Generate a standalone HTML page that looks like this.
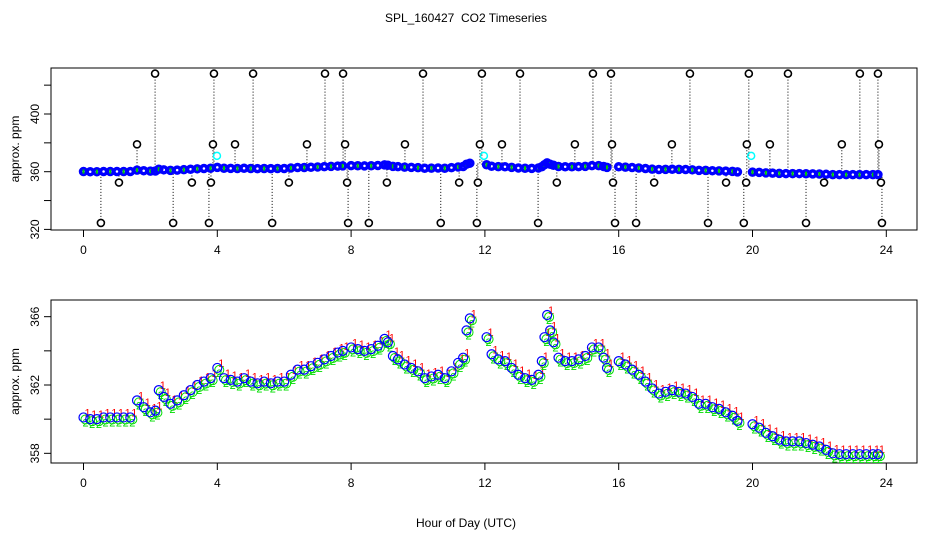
<!DOCTYPE html>
<html><head><meta charset="utf-8"><style>
html,body{margin:0;padding:0;background:#fff;}
svg{display:block;font-family:"Liberation Sans",sans-serif;}
</style></head><body>
<svg id="chart" width="936" height="540" viewBox="0 0 936 540" xmlns="http://www.w3.org/2000/svg">
<rect width="936" height="540" fill="#fff"/>
<text x="466" y="22" font-size="12" text-anchor="middle" style="white-space:pre">SPL_160427  CO2 Timeseries</text>
<text x="466" y="527" font-size="12" text-anchor="middle">Hour of Day (UTC)</text>
<g id="top"></g>
<g id="bot"></g>
</svg>
<script>
const hours=[0.0,0.2,0.4,0.6,0.8,1.0,1.2,1.4,1.6,1.8,2.0,2.15,2.25,2.4,2.6,2.8,3.0,3.2,3.4,3.6,3.8,4.0,4.2,4.4,4.6,4.8,5.0,5.2,5.4,5.6,5.8,6.0,6.2,6.4,6.6,6.8,7.0,7.2,7.4,7.6,7.75,8.0,8.2,8.4,8.6,8.8,9.0,9.1,9.25,9.4,9.6,9.8,10.0,10.2,10.4,10.6,10.8,11.0,11.2,11.35,11.45,11.55,12.05,12.2,12.4,12.6,12.8,13.0,13.2,13.4,13.6,13.7,13.78,13.86,13.95,14.05,14.2,14.4,14.6,14.8,15.0,15.2,15.4,15.55,15.65,16.0,16.2,16.4,16.6,16.8,17.0,17.2,17.4,17.6,17.8,18.0,18.2,18.4,18.6,18.8,19.0,19.2,19.4,19.55,20.0,20.2,20.4,20.6,20.8,21.0,21.2,21.4,21.6,21.8,22.0,22.2,22.4,22.6,22.8,23.0,23.2,23.4,23.6,23.75];
const co2=[360.1,360.0,360.0,360.1,360.1,360.1,360.1,360.1,361.1,360.7,360.4,360.5,361.7,361.3,360.9,361.1,361.4,361.7,362.0,362.2,362.4,363.0,362.4,362.3,362.2,362.4,362.2,362.1,362.2,362.1,362.2,362.2,362.6,362.9,362.9,363.1,363.3,363.5,363.7,363.9,364.0,364.2,364.1,364.0,364.1,364.3,364.7,364.5,363.7,363.5,363.2,363.0,362.8,362.4,362.5,362.6,362.4,362.8,363.3,363.6,365.2,365.9,364.8,363.8,363.5,363.4,363.0,362.6,362.4,362.3,362.6,363.4,364.8,366.1,365.2,364.5,363.6,363.4,363.4,363.5,363.7,364.2,364.2,363.6,363.0,363.4,363.2,362.9,362.6,362.2,361.8,361.5,361.6,361.7,361.6,361.5,361.3,360.9,360.9,360.7,360.6,360.4,360.2,359.9,359.7,359.5,359.2,359.0,358.8,358.7,358.7,358.7,358.6,358.5,358.4,358.2,358.0,357.95,357.95,357.95,357.95,357.95,357.95,357.95];
const outHours=[2.14,3.90,5.07,7.22,7.76,10.15,11.91,13.05,15.23,15.77,18.13,19.89,21.06,23.21,23.75,
1.60,3.87,4.53,6.68,7.82,9.61,11.85,12.51,14.69,15.80,17.59,19.83,20.52,22.67,23.78,
1.06,3.24,3.81,6.14,7.88,9.07,11.23,11.79,14.15,15.83,17.06,19.21,19.81,22.14,23.84,
0.52,2.68,3.75,5.64,7.91,8.53,10.68,11.76,13.59,15.89,16.52,18.67,19.74,21.60,23.87];
const outVals=[428,428,428,428,428,428,428,428,428,428,428,428,428,428,428,
379,379,379,379,379,379,379,379,379,379,379,379,379,379,379,
352.5,352.5,352.5,352.5,352.5,352.5,352.5,352.5,352.5,352.5,352.5,352.5,352.5,352.5,352.5,
324.5,324.5,324.5,324.5,324.5,324.5,324.5,324.5,324.5,324.5,324.5,324.5,324.5,324.5,324.5];
const cyanHours=[3.99,11.97,19.96];
const cyanVals=[371,371,371];
const xTicks=[0,4,8,12,16,20,24];
const topYTicks=[320,340,360,380,400,420];
const topYLabels=[320,360,400];
const botYTicks=[358,360,362,364,366];
const botYLabels=[358,362,366];

const NS="http://www.w3.org/2000/svg";
function mk(tag,attrs,parent,txt){const e=document.createElementNS(NS,tag);for(const k in attrs)e.setAttribute(k,attrs[k]);if(txt!==undefined)e.textContent=txt;parent.appendChild(e);return e;}
const xs=h=>83.5+h*33.45;
const yTop=v=>171.7-(v-360)*1.4425;
const yBot=v=>385-(v-362)*17.08;
function nearest(h){let b=0;for(let i=0;i<hours.length;i++){if(Math.abs(hours[i]-h)<Math.abs(hours[b]-h))b=i;}return co2[b];}

function axes(g,top,bottom,ys,ticks,labels,name){
  const box=mk('rect',{x:51,y:top,width:866,height:bottom-top,fill:'none',stroke:'#000','stroke-width':1},g);
  
  
  xTicks.forEach(t=>{
    const l=mk('line',{x1:xs(t),x2:xs(t),y1:bottom,y2:bottom+7,stroke:'#000'},g);
    
    
    const tx=mk('text',{x:xs(t),y:bottom+24,'font-size':12,'text-anchor':'middle'},g,String(t));
    
    
  });
  ticks.forEach(t=>{
    const l=mk('line',{x1:44,x2:51,y1:ys(t),y2:ys(t),stroke:'#000'},g);
    
    
  });
  labels.forEach(t=>{
    const tx=mk('text',{x:0,y:0,'font-size':12,'text-anchor':'middle',transform:`translate(39,${ys(t)}) rotate(-90)`},g,String(t));
    
    
  });
  const yl=mk('text',{x:0,y:0,'font-size':12,'text-anchor':'middle',transform:`translate(19,${(top+bottom)/2}) rotate(-90)`},g,'approx. ppm');
  
  
}

const gt=document.getElementById('top');
axes(gt,68,230,yTop,topYTicks,topYLabels,'top');
outHours.forEach((h,i)=>{
  const base=nearest(h);
  const l=mk('line',{x1:xs(h),x2:xs(h),y1:yTop(outVals[i]),y2:yTop(base),stroke:'#000','stroke-dasharray':'1,2'},gt);
  
  
});
hours.forEach((h,i)=>{
  const c=mk('circle',{cx:xs(h),cy:yTop(co2[i]),r:3,fill:'none',stroke:'#0000ff','stroke-width':3.5},gt);
  
  
  if(i%2===0){const d=mk('rect',{x:xs(h)-1,y:yTop(co2[i])-2,width:2,height:4,fill:'#00cc00'},gt);
  
  }
});
outHours.forEach((h,i)=>{
  const c=mk('circle',{cx:xs(h),cy:yTop(outVals[i]),r:3.5,fill:'#fff',stroke:'#000','stroke-width':1.6},gt);
  
  
});
cyanHours.forEach((h,i)=>{
  const c=mk('circle',{cx:xs(h),cy:yTop(cyanVals[i]),r:3.5,fill:'none',stroke:'#00ffff','stroke-width':1.5},gt);
  
  
});

const gb=document.getElementById('bot');
axes(gb,300,463,yBot,botYTicks,botYLabels,'bottom');
hours.forEach((h,i)=>{
  const x=xs(h),y=yBot(co2[i]);
  const t1=mk('text',{x:x+4,y:y-1,'font-size':11,fill:'#ff0000','text-anchor':'middle'},gb,'1');
  
  
  const t2=mk('text',{x:x+2,y:y+9,'font-size':11,fill:'#00dd00','text-anchor':'middle'},gb,'2');
  
  
  const c2=mk('circle',{cx:x+2,cy:y+2,r:4.5,fill:'none',stroke:'#00dd00','stroke-width':1},gb);
  
  
  const c=mk('circle',{cx:x,cy:y,r:4.5,fill:'none',stroke:'#0000ff','stroke-width':1.2},gb);
  
  
});
</script>
</body></html>
